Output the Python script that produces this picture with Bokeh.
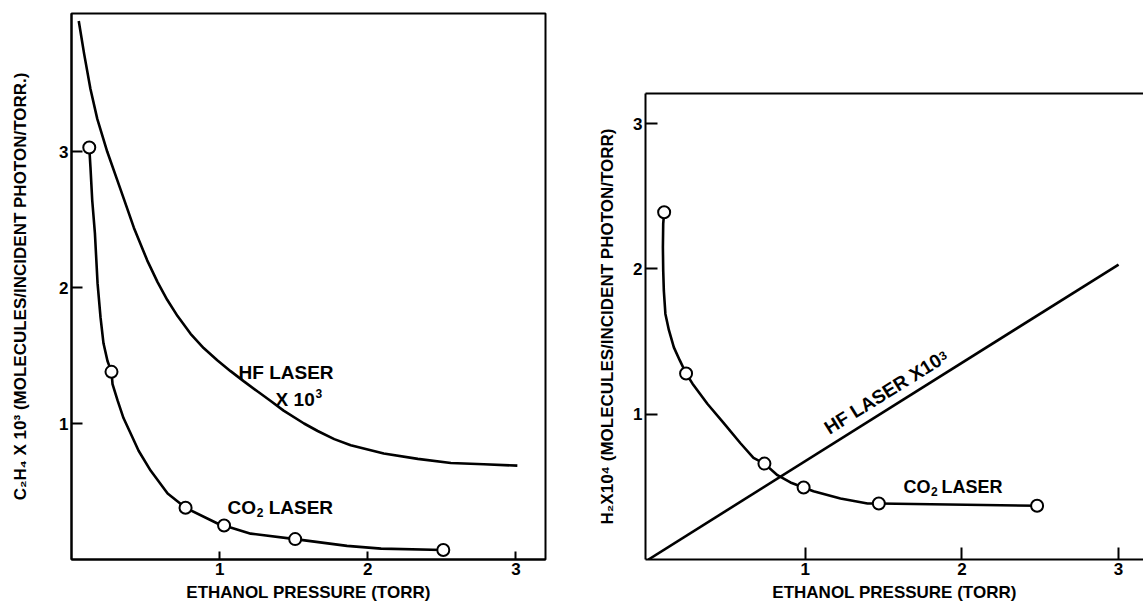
from bokeh.plotting import figure
from bokeh.layouts import row, column
from bokeh.models import FixedTicker, LinearAxis, Range1d, Spacer
from bokeh.embed import file_html
from bokeh.resources import INLINE
from bokeh.core.properties import value

FONT = "Liberation Sans"

# ---------------- data ----------------
# Left panel: C2H4 yield x 10^3
left_co2_pts_x = [0.12, 0.27, 0.77, 1.03, 1.51, 2.51]
left_co2_pts_y = [3.03, 1.38, 0.38, 0.25, 0.15, 0.07]
left_co2_curve_x = [0.12, 0.128, 0.140, 0.158, 0.176, 0.196, 0.216, 0.243, 0.27, 0.277,
                    0.311, 0.351, 0.412, 0.453, 0.534, 0.649, 0.77, 0.986, 1.03, 1.21,
                    1.51, 1.86, 2.09, 2.51]
left_co2_curve_y = [3.03, 2.885, 2.64, 2.40, 2.03, 1.78, 1.59, 1.46, 1.38, 1.29,
                    1.17, 1.04, 0.897, 0.80, 0.654, 0.485, 0.38, 0.265, 0.25, 0.19,
                    0.15, 0.10, 0.08, 0.07]
left_hf_curve_x = [0.049, 0.085, 0.128, 0.174, 0.241, 0.309, 0.354, 0.421, 0.511, 0.581,
                   0.646, 0.716, 0.804, 0.892, 0.984, 1.074, 1.164, 1.257, 1.345, 1.432,
                   1.57, 1.662, 1.774, 1.885, 2.108, 2.338, 2.561, 2.784, 3.01]
left_hf_curve_y = [3.96, 3.72, 3.46, 3.24, 3.00, 2.79, 2.65, 2.44, 2.20, 2.04,
                   1.91, 1.79, 1.66, 1.555, 1.465, 1.385, 1.31, 1.235, 1.165, 1.095,
                   1.00, 0.945, 0.885, 0.84, 0.78, 0.74, 0.71, 0.70, 0.69]

# Right panel: H2 yield x 10^4
right_co2_pts_x = [0.10, 0.24, 0.74, 0.99, 1.47, 2.48]
right_co2_pts_y = [2.39, 1.28, 0.66, 0.495, 0.385, 0.37]
right_co2_curve_x = [0.10, 0.094, 0.092, 0.094, 0.098, 0.108, 0.130, 0.162, 0.200, 0.24,
                     0.281, 0.377, 0.479, 0.587, 0.67, 0.74, 0.823, 0.906, 0.99, 1.053,
                     1.225, 1.398, 1.47, 2.48]
right_co2_curve_y = [2.39, 2.31, 2.15, 1.99, 1.85, 1.69, 1.58, 1.46, 1.37, 1.28,
                     1.21, 1.07, 0.94, 0.80, 0.70, 0.66, 0.58, 0.53, 0.495, 0.47,
                     0.42, 0.385, 0.385, 0.37]
right_hf_line_x = [0.0, 3.0]
right_hf_line_y = [0.0, 2.03]

tick_values = [1, 2, 3]

x_label = "ETHANOL PRESSURE (TORR)"
left_y_label = "C\u2082H\u2084 X 10\u00b3 (MOLECULES/INCIDENT PHOTON/TORR.)"
right_y_label = "H\u2082X10\u2074 (MOLECULES/INCIDENT PHOTON/TORR)"


def style(p, tick_in_x, tick_in_y, ylab_standoff):
    p.xgrid.visible = False
    p.ygrid.visible = False
    for ax in (p.xaxis, p.yaxis):
        ax.ticker = FixedTicker(ticks=tick_values)
        ax.axis_line_width = 2
        ax.axis_line_color = "black"
        ax.major_tick_line_width = 2
        ax.major_tick_line_color = "black"
        ax.major_tick_out = 0
        ax.minor_tick_line_color = None
        ax.major_label_text_font = FONT
        ax.major_label_text_font_size = "17px"
        ax.major_label_text_font_style = "bold"
        ax.major_label_text_color = "black"
        ax.major_label_standoff = 3
        ax.axis_label_text_font = FONT
        ax.axis_label_text_font_size = "17px"
        ax.axis_label_text_font_style = "bold"
        ax.axis_label_text_color = "black"
    p.xaxis.major_tick_in = tick_in_x
    p.yaxis.major_tick_in = tick_in_y
    p.yaxis.axis_label_standoff = ylab_standoff
    p.xaxis.axis_label_standoff = 5
    p.xaxis.axis_label = x_label


def txt(p, x, y, s, size, **kw):
    p.text(x=[x], y=[y], text=[s], text_font=value(FONT), text_font_size=size,
           text_font_style="bold", text_color="black", **kw)


# ---------------- left panel ----------------
p1 = figure(width=590, height=608, x_range=Range1d(0, 3.2), y_range=Range1d(0, 4.015),
            output_backend="svg", toolbar_location=None,
            min_border_left=71, min_border_right=45, min_border_top=13, min_border_bottom=49)
style(p1, 8, 11, 26)
p1.yaxis.axis_label = left_y_label
p1.outline_line_color = "black"
p1.outline_line_width = 2
p1.outline_line_alpha = 1.0

p1.line(left_hf_curve_x, left_hf_curve_y, line_color="black", line_width=2.6)
p1.line(left_co2_curve_x, left_co2_curve_y, line_color="black", line_width=2.6)
p1.scatter(left_co2_pts_x, left_co2_pts_y, marker="circle", size=12,
           fill_color="white", line_color="black", line_width=2)

txt(p1, 1.128, 1.375, "HF LASER", "19px", text_align="left", text_baseline="middle")
txt(p1, 1.378, 1.18, "X 10", "19px", text_align="left", text_baseline="middle")
txt(p1, 1.648, 1.224, "3", "12px", text_align="left", text_baseline="middle")
txt(p1, 1.054, 0.382, "CO", "19px", text_align="left", text_baseline="middle")
txt(p1, 1.250, 0.345, "2", "12px", text_align="left", text_baseline="middle")
txt(p1, 1.331, 0.382, "LASER", "19px", text_align="left", text_baseline="middle")

# ---------------- right panel ----------------
p2 = figure(width=553, height=528, x_range=Range1d(-0.019, 3.159), y_range=Range1d(0, 3.207),
            output_backend="svg", toolbar_location=None,
            min_border_left=55, min_border_right=0, min_border_top=13, min_border_bottom=49)
style(p2, 12, 12, 13)
p2.yaxis.axis_label = right_y_label
p2.outline_line_color = None

top_axis = LinearAxis(ticker=FixedTicker(ticks=[]), axis_line_width=2, axis_line_color="black",
                      major_tick_line_color=None, minor_tick_line_color=None,
                      major_label_text_font_size="0px")
p2.add_layout(top_axis, "above")

p2.line(right_hf_line_x, right_hf_line_y, line_color="black", line_width=2.6)
p2.line(right_co2_curve_x, right_co2_curve_y, line_color="black", line_width=2.6)
p2.scatter(right_co2_pts_x, right_co2_pts_y, marker="circle", size=12,
           fill_color="white", line_color="black", line_width=2)

txt(p2, 1.168, 0.833, "HF LASER X10", "19px", text_align="left", text_baseline="bottom",
    angle=32, angle_units="deg")
txt(p2, 1.875, 1.366, "3", "12px", text_align="left", text_baseline="bottom",
    angle=32, angle_units="deg")
txt(p2, 1.627, 0.50, "CO", "18px", text_align="left", text_baseline="middle")
txt(p2, 1.803, 0.466, "2", "12px", text_align="left", text_baseline="middle")
txt(p2, 1.870, 0.50, "LASER", "18px", text_align="left", text_baseline="middle")

right_col = column(Spacer(width=553, height=80), p2)
layout = row(p1, right_col)
open("out.html", "w").write(file_html(layout, INLINE))
